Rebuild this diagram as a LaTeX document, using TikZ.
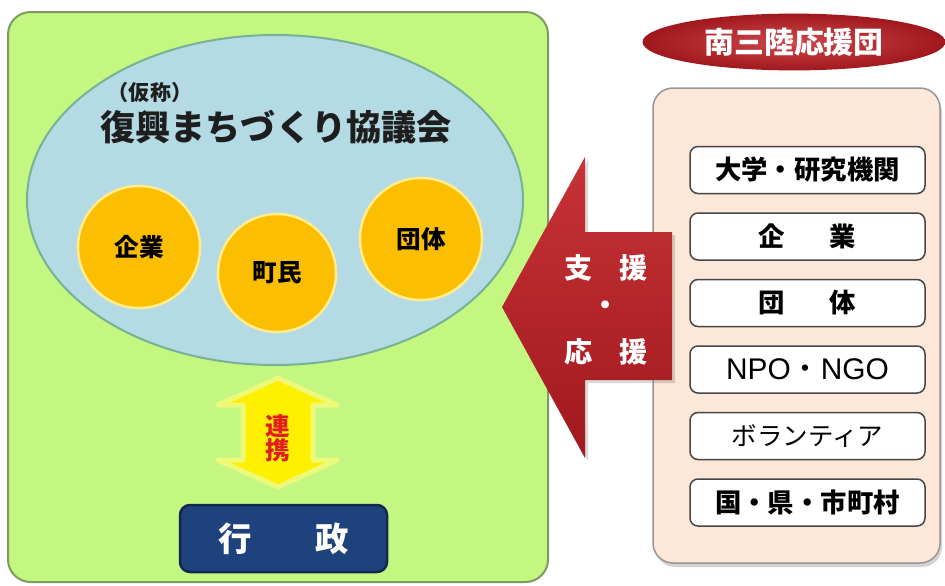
\documentclass[tikz,border=0pt]{standalone}
\usepackage{fontspec}
\setmainfont{Noto Sans CJK JP}
\newfontfamily\latinfont{Liberation Sans}
\usetikzlibrary{shapes.geometric,shadows}

\definecolor{panelgreen}{RGB}{196,246,130}
\definecolor{panelline}{RGB}{125,155,95}
\definecolor{councilblue}{RGB}{180,218,228}
\definecolor{councilline}{RGB}{120,178,150}
\definecolor{memberorange}{RGB}{252,190,0}
\definecolor{memberline}{RGB}{255,236,140}
\definecolor{linkyellow}{RGB}{255,240,0}
\definecolor{linkhalo}{RGB}{236,250,120}
\definecolor{linkred}{RGB}{225,30,30}
\definecolor{govnavy}{RGB}{30,66,124}
\definecolor{govline}{RGB}{18,40,80}
\definecolor{supportred}{RGB}{196,40,44}
\definecolor{supportdark}{RGB}{160,24,30}
\definecolor{peach}{RGB}{252,231,216}
\definecolor{peachline}{RGB}{150,150,150}
\definecolor{boxline}{RGB}{70,70,70}
\definecolor{titletext}{RGB}{30,30,30}

\tikzset{
  bigtext/.style={font=\fontsize{#1}{#1}\selectfont},
  boldtext/.style={font=\bfseries\fontsize{#1}{#1}\selectfont}
}

\begin{document}
\begin{tikzpicture}[x=0.2mm,y=-0.2mm]
  \useasboundingbox (0,0) rectangle (945,585);

  % left panel
  \draw[fill=panelgreen,draw=panelline,line width=0.4mm,rounded corners=4.5mm]
    (8,12) rectangle (548,582);

  \node[ellipse,fill=councilblue,draw=councilline,line width=0.4mm,
        minimum width=99.2mm,minimum height=66mm,inner sep=0] (council) at (275,200) {};

  \node[boldtext=12,text=titletext] (kasho) at (150,92) {（仮称）};
  \node[boldtext=20,text=titletext] (kyogikai) at (276,127) {復興まちづくり協議会};

  \begin{scope}[every node/.style={circle,fill=memberorange,draw=memberline,
      line width=0.5mm,minimum size=24.4mm,inner sep=0,
      font=\bfseries\fontsize{14}{14}\selectfont}]
    \node (kigyo) at (139,247) {企業};
    \node[minimum size=23.6mm] (chomin) at (277,273) {町民};
    \node (dantai) at (421,239) {団体};
  \end{scope}

  % renkei arrow
  \path[fill=linkyellow,draw=linkhalo,line width=1mm,line join=round]
    (278,378) -- (337,405) -- (313,405) -- (313,460) -- (337,460)
    -- (278,487) -- (218,460) -- (243,460) -- (243,405) -- (218,405) -- cycle;
  \node[boldtext=14,text=linkred,align=center] (renkei) at (278,438)
    {\fontsize{14}{22.5}\selectfont 連\\携};

  \node[fill=govnavy,draw=govline,line width=0.5mm,rounded corners=2mm,
        minimum width=41.4mm,minimum height=13.4mm,text=white,
        boldtext=19] (gyosei) at (283.5,538.5) {行\hspace{1.9em}政};

  % right panel
  \draw[fill=peach,draw=peachline,line width=0.3mm,rounded corners=4mm,
        drop shadow={shadow xshift=0.4mm,shadow yshift=-0.8mm,opacity=0.35}]
    (653,88) rectangle (940,563);

  \node[ellipse,inner color=supportred!85!white,outer color=supportdark,
        minimum width=60.6mm,minimum height=11mm,text=white,
        boldtext=17] (ouendan) at (794,42) {南三陸応援団};

  \begin{scope}[every node/.style={draw=boxline,fill=white,line width=0.3mm,
      rounded corners=1.6mm,minimum width=47mm,minimum height=9.4mm,
      boldtext=15}]
    \node (daigaku) at (807.5,170) {大学・研究機関};
    \node (kigyo2) at (807.5,236.5) {企\hspace{1.7em}業};
    \node (dantai2) at (807.5,303) {団\hspace{1.7em}体};
    \node[font=\fontsize{17}{17}\selectfont] (npo) at (807.5,369.5)
      {{\latinfont NPO}・{\latinfont NGO}};
    \node[font=\fontsize{14.5}{14.5}\selectfont] (volunteer) at (807.5,436) {ボランティア};
    \node (kuni) at (807.5,502.5) {国・県・市町村};
  \end{scope}

  % shien arrow
  \path[top color=supportred!95!white,bottom color=supportdark,
        drop shadow={shadow xshift=0.6mm,shadow yshift=-0.6mm,opacity=0.3}]
    (502,307) -- (585,157) -- (585,232) -- (672,232) -- (672,380)
    -- (585,380) -- (585,458) -- cycle;
  \node[boldtext=16,text=white] (shien) at (606,268) {支\hspace{0.95em}援};
  \node[boldtext=16,text=white] (dot) at (606,308) {・};
  \node[boldtext=16,text=white] (ouen) at (606,352) {応\hspace{0.95em}援};

\end{tikzpicture}
\end{document}
